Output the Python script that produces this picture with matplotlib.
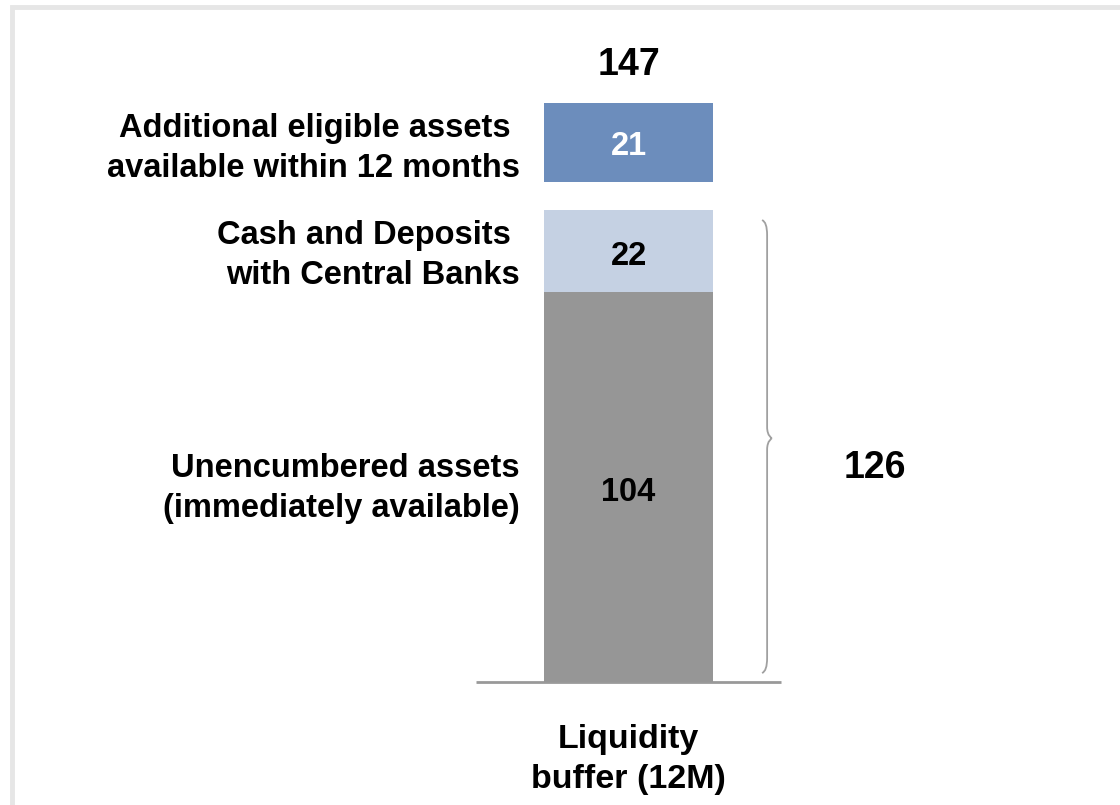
import matplotlib
matplotlib.use("Agg")
import matplotlib.pyplot as plt
from matplotlib.patches import Rectangle, PathPatch
from matplotlib.path import Path

# Data
segments = ["Unencumbered assets\n(immediately available)",
            "Cash and Deposits \nwith Central Banks",
            "Additional eligible assets \navailable within 12 months"]
values = [104, 22, 21]
colors = ["#969696", "#c5d1e3", "#6c8dbc"]
value_colors = ["black", "black", "white"]
category = "Liquidity\nbuffer (12M)"
total = 147
subtotal = 126
gap = 7.3

plt.rcParams['font.family'] = ['Liberation Sans', 'DejaVu Sans']

fig = plt.figure(figsize=(11.2, 8.05), dpi=100)
ax = fig.add_axes([0, 0, 1, 1])
ax.set_xlim(-3.719, 2.908)
ax.set_ylim(-32.8, 181.9)
ax.axis("off")

# border frame
fig.patches.append(Rectangle((12 / 1120, -0.1), 1.2, (805 - 7) / 805 + 0.1,
                             transform=fig.transFigure, fill=False,
                             edgecolor="#e6e6e6", linewidth=3.5, zorder=0))

label_shift = [-0.5, -1.3, -1.5]
value_shift = [-1.4, -1.5, -1.0]
bottom = 0
for i, (lab, v, c, vc) in enumerate(zip(segments, values, colors, value_colors)):
    if i == 2:
        bottom += gap
    ax.bar(0, v, width=1.0, bottom=bottom, color=c, edgecolor="none", zorder=2)
    mid = bottom + v / 2
    ax.text(0, mid + value_shift[i], str(v), ha="center", va="center",
            fontsize=23.5, fontweight="bold", color=vc, zorder=3)
    ax.text(-0.642, mid + label_shift[i], lab, ha="right", va="center",
            fontsize=23.5, fontweight="bold", color="black", linespacing=1.38)
    bottom += v

# baseline
ax.plot([-0.902, 0.902], [0, 0], color="#999999", linewidth=2, zorder=1,
        solid_capstyle="butt")

# totals
ax.text(0, 164.5, str(total), ha="center", va="center", fontsize=27,
        fontweight="bold")
ax.text(1.459, 57.1, str(subtotal), ha="center", va="center", fontsize=27,
        fontweight="bold")

# category label
ax.text(0, -20.6, category, ha="center", va="center", fontsize=24.5,
        fontweight="bold", linespacing=1.36)

# brace
x0, x1, x2 = 0.79, 0.82, 0.848
top, bot, mid = 123.2, 2.4, 65.0
verts = [(x0, top), (x1, top - 0.5), (x1, top - 4),
         (x1, mid + 3),
         (x1, mid + 0.6), (x2, mid), (x2, mid),
         (x2, mid), (x1, mid - 0.6), (x1, mid - 3),
         (x1, bot + 4),
         (x1, bot + 0.5), (x0, bot)]
codes = [Path.MOVETO, Path.CURVE3, Path.CURVE3,
         Path.LINETO,
         Path.CURVE4, Path.CURVE4, Path.CURVE4,
         Path.CURVE4, Path.CURVE4, Path.CURVE4,
         Path.LINETO,
         Path.CURVE3, Path.CURVE3]
ax.add_patch(PathPatch(Path(verts, codes), fill=False, edgecolor="#a0a0a0",
                       linewidth=1.3))

fig.savefig("out.png", dpi=100)
